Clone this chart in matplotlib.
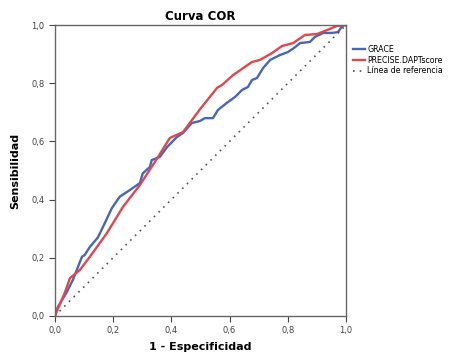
import matplotlib.pyplot as plt

# ROC curve values
grace_fpr = [0.0, 0.01, 0.04, 0.062, 0.093, 0.103, 0.12, 0.148, 0.172, 0.196, 0.223,
             0.258, 0.292, 0.302, 0.326, 0.333, 0.36, 0.385, 0.419, 0.44, 0.47, 0.498,
             0.515, 0.543, 0.56, 0.59, 0.619, 0.643, 0.663, 0.677, 0.694, 0.715, 0.739,
             0.773, 0.8, 0.825, 0.842, 0.876, 0.893, 0.921, 0.952, 0.973, 0.979, 0.99, 1.0]
grace_tpr = [0.0, 0.03, 0.08, 0.124, 0.203, 0.21, 0.237, 0.27, 0.32, 0.371, 0.41,
             0.433, 0.457, 0.49, 0.512, 0.536, 0.546, 0.58, 0.615, 0.629, 0.663, 0.67,
             0.68, 0.68, 0.708, 0.732, 0.753, 0.777, 0.787, 0.811, 0.818, 0.852, 0.88,
             0.897, 0.907, 0.924, 0.938, 0.942, 0.959, 0.973, 0.973, 0.976, 0.986, 1.0, 1.0]

precise_fpr = [0.0, 0.034, 0.052, 0.086, 0.12, 0.179, 0.234, 0.292, 0.344, 0.395, 0.44,
               0.498, 0.557, 0.574, 0.612, 0.677, 0.704, 0.746, 0.78, 0.818, 0.859,
               0.9, 0.935, 0.969, 1.0]
precise_tpr = [0.0, 0.079, 0.13, 0.158, 0.203, 0.285, 0.375, 0.45, 0.53, 0.612, 0.632,
               0.71, 0.784, 0.794, 0.828, 0.873, 0.88, 0.904, 0.928, 0.938, 0.966,
               0.969, 0.983, 0.997, 1.0]

ref = [0.0, 1.0]
ticks = [0.0, 0.2, 0.4, 0.6, 0.8, 1.0]
tick_labels = ['0,0', '0,2', '0,4', '0,6', '0,8', '1,0']

fig = plt.figure(figsize=(4.53, 3.53), dpi=100)
ax = fig.add_axes([0.121, 0.105, 0.643, 0.824])

ax.plot(grace_fpr, grace_tpr, color='#4666b8', lw=1.7, label='GRACE')
ax.plot(precise_fpr, precise_tpr, color='#e0474c', lw=1.7, label='PRECISE.DAPTscore')
ax.plot(ref, ref, color='#555555', lw=1.2, linestyle=(0, (1, 3)), label='Línea de referencia')

ax.set_xlim(0, 1)
ax.set_ylim(0, 1)
ax.set_xticks(ticks)
ax.set_xticklabels(tick_labels)
ax.set_yticks(ticks)
ax.set_yticklabels(tick_labels)
ax.tick_params(labelsize=6, colors='#444444', length=4, width=0.8)
for s in ax.spines.values():
    s.set_color('#666666')
    s.set_linewidth(1.0)

ax.set_title('Curva COR', fontsize=8.5, fontweight='bold', pad=4)
ax.set_xlabel('1 - Especificidad', fontsize=8, fontweight='bold', labelpad=5)
ax.set_ylabel('Sensibilidad', fontsize=8, fontweight='bold', labelpad=8)

ax.legend(loc='upper left', bbox_to_anchor=(1.005, 0.95), frameon=False, fontsize=5.7,
          handlelength=1.5, handletextpad=0.3, labelspacing=0.2, borderaxespad=0.3)

fig.savefig('out.png', dpi=100)
